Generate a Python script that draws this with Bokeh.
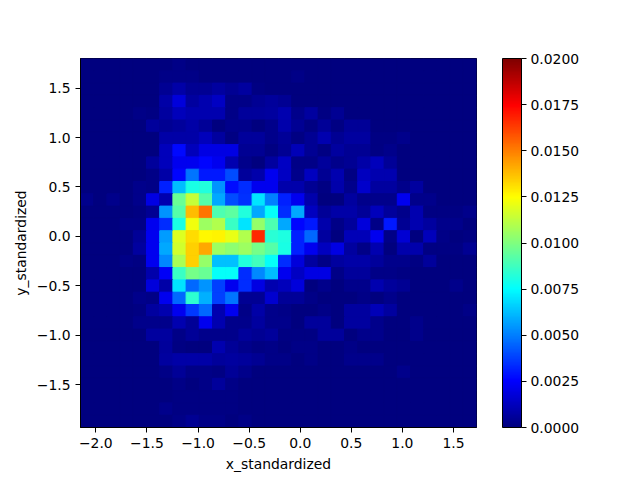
import numpy as np
from bokeh.plotting import figure
from bokeh.models import ColumnDataSource, LinearColorMapper, ColorBar, FixedTicker, Range1d
from bokeh.embed import file_html
from bokeh.resources import INLINE

# density values in units of 0.001, top row first
r00 = [0,0,0,0,0,0,0,.2,0,0,0,0,0,0,0,0,0,0,0,0,0,0,0,0,0,0,0,0,0,0]
r01 = [0,0,0,0,0,0,.2,.2,.2,0,0,0,0,0,0,0,.2,0,0,0,0,0,0,0,0,0,0,0,0,0]
r02 = [0,0,0,0,0,0,.4,.8,.4,.4,.7,.4,.7,.1,0,0,0,0,0,0,0,0,0,0,0,0,0,0,0,0]
r03 = [0,0,0,0,0,0,.8,1.8,.7,1.0,1.4,.2,.2,.4,.6,.4,0,0,0,0,0,0,0,0,0,0,0,0,0,0]
r04 = [0,0,0,0,.2,.1,.7,1.2,1.0,1.0,1.0,.2,.6,.6,.7,1.0,.3,.7,.1,.4,0,0,0,0,0,0,0,0,0,0]
r05 = [0,0,0,0,0,.6,.4,.6,.8,.5,.05,.3,.3,.05,.3,.9,.4,.1,.5,.1,.5,.5,0,0,0,0,0,0,0,0]
r06 = [0,0,0,0,0,0,.8,.8,.8,1.2,.7,.1,.6,.6,.3,.5,.1,.4,1.0,.4,.7,.7,.1,.1,.3,0,0,0,0,0]
r07 = [0,0,0,0,0,0,1.2,2.7,1.2,2.0,2.0,2.0,.4,.4,.1,.4,1.1,.4,.1,.7,.4,.4,.1,.3,0,0,0,0,0,0]
r08 = [0,0,0,0,0,.6,1.2,2.2,2.2,2.6,2.2,1.0,.3,.05,.7,1.4,.2,.2,.6,.3,.4,.8,1.2,.5,0,0,0,0,0,0]
r09 = [0,0,0,0,0,.2,.8,2.6,4.8,3.0,3.0,4.0,.6,.9,2.2,1.4,.3,1.3,.4,1.0,.1,1.3,1.0,1.0,0,0,0,0,0,0]
r10 = [0,0,0,0,.3,.2,3.2,6.2,8.0,8.2,5.4,2.8,3.4,2.2,2.2,.9,.9,.4,.1,.9,.3,1.5,.7,.7,.3,.7,0,0,0,0]
r11 = [.3,0,.3,0,.3,2.0,1.0,9.6,11.4,9.2,5.8,4.0,3.5,7.0,5.0,3.2,2.2,.9,.05,.05,.7,.3,.3,.3,2.2,.3,.3,0,0,0]
r12 = [0,0,0,0,.1,.4,5.4,9.2,13.8,15.2,9.0,9.3,8.2,5.8,7.6,3.4,5.8,1.3,.5,.8,.8,.5,1.2,.6,.3,1.0,.1,.1,.1,.3]
r13 = [0,0,0,.2,.2,2.2,3.4,8.0,12.2,10.6,11.0,8.6,7.0,10.4,9.0,5.8,2.6,3.0,.9,.2,.6,1.8,.2,3.0,.4,1.0,.7,.3,.3,.05]
r14 = [0,0,0,0,.5,2.2,5.6,11.8,13.2,12.6,12.7,12.1,11.0,16.7,8.3,8.1,3.2,4.6,.7,.05,1.1,1.1,2.2,.2,1.7,.05,1.2,.2,.05,.1]
r15 = [0,0,0,0,.7,2.2,5.8,11.6,13.4,14.2,10.6,10.3,10.6,9.8,9.2,8.0,3.2,2.2,1.3,2.0,.7,.2,1.0,.05,.9,.9,.1,.1,.1,.4]
r16 = [0,0,0,.2,.1,2.2,5.2,10.8,13.4,10.4,6.3,6.3,8.2,8.8,7.6,3.4,1.8,.7,.2,.7,.8,.8,.6,.3,.3,.1,.6,0,0,0]
r17 = [0,0,0,0,0,.9,2.4,8.6,9.8,9.6,7.6,7.6,3.4,5.2,6.2,2.2,1.4,2.0,2.0,.2,.6,.6,.2,.2,.1,.05,0,0,0,0]
r18 = [0,0,0,0,0,1.8,.8,7.0,4.6,5.4,3.8,2.2,3.4,2.0,1.0,1.2,1.8,.05,.3,.05,.3,.3,1.0,.6,.4,0,0,0,.3,0]
r19 = [0,0,0,0,.3,.2,2.2,4.6,8.4,6.0,3.8,4.8,.4,.4,1.6,.5,.5,.2,.05,.05,.05,.2,.05,.3,0,0,0,0,0,0]
r20 = [0,0,0,0,.1,.7,1.0,2.2,3.6,4.6,1.0,2.2,.2,.8,.3,.2,.05,.05,.2,.05,.7,.7,1.1,.7,0,0,0,0,0,.2]
r21 = [0,0,0,0,.3,.3,.3,1.0,.5,2.2,1.0,.3,.3,.7,.3,.3,.05,.6,.6,.05,.7,.7,.3,0,0,.3,0,0,0,0]
r22 = [0,0,0,0,0,.7,.7,.2,.5,.3,.3,.3,.6,.4,.6,.1,.1,.1,.6,.6,.05,.3,.3,.05,0,.3,0,0,0,0]
r23 = [0,0,0,0,0,0,.6,.1,.02,.02,1.0,.5,.3,.1,.2,.05,.2,.2,0,0,.2,0,0,0,0,0,0,0,0,0]
r24 = [0,0,0,0,0,0,.7,.8,.8,.8,.6,.7,.6,.4,.2,.2,0,.2,0,0,.3,.3,.3,0,0,0,0,0,0,0]
r25 = [0,0,0,0,0,0,.2,.5,.2,.2,.1,.5,.3,0,0,0,0,0,0,0,0,0,0,0,.3,0,0,0,0,0]
r26 = [0,0,0,0,0,0,0,.2,.05,.2,.6,.2,0,0,0,0,0,0,0,0,0,0,0,0,0,0,0,0,0,0]
r27 = [0,0,0,0,0,0,0,.1,.1,.1,.1,.1,0,0,0,0,0,0,0,0,0,0,0,0,0,0,0,0,0,0]
r28 = [0,0,0,0,0,0,.3,.1,.1,.1,.1,.1,0,0,0,0,0,0,0,0,0,0,0,0,0,0,0,0,0,0]
r29 = [0,0,0,0,0,0,0,.2,.4,.2,.2,0,.2,0,0,0,0,0,0,0,0,0,0,0,0,0,0,0,0,0]
rows = [r00,r01,r02,r03,r04,r05,r06,r07,r08,r09,r10,r11,r12,r13,r14,r15,r16,r17,r18,r19,r20,r21,r22,r23,r24,r25,r26,r27,r28,r29]

x_ticks = [-2.0,-1.5,-1.0,-0.5,0.0,0.5,1.0,1.5]
x_labels = ["\u22122.0","\u22121.5","\u22121.0","\u22120.5","0.0","0.5","1.0","1.5"]
y_ticks = [-1.5,-1.0,-0.5,0.0,0.5,1.0,1.5]
y_labels = ["\u22121.5","\u22121.0","\u22120.5","0.0","0.5","1.0","1.5"]
cb_ticks = [0.0,0.0025,0.005,0.0075,0.01,0.0125,0.015,0.0175,0.02]

X0, X1, Y0, Y1 = -2.15, 1.725, -1.935, 1.80
xe = np.linspace(X0, X1, 31)
ye = np.linspace(Y1, Y0, 31)

def jet(v):
    r = np.clip(np.minimum(4*v-1.5, -4*v+4.5), 0, 1)
    g = np.clip(np.minimum(4*v-0.5, -4*v+3.5), 0, 1)
    b = np.clip(np.minimum(4*v+0.5, -4*v+2.5), 0, 1)
    return "#%02x%02x%02x" % (int(r*255), int(g*255), int(b*255))
palette = [jet(i/255) for i in range(256)]
mapper = LinearColorMapper(palette=palette, low=0, high=0.02)

L, R, B, T, C = [], [], [], [], []
for i, row in enumerate(rows):
    for j, val in enumerate(row):
        L.append(xe[j]); R.append(xe[j+1]); T.append(ye[i]); B.append(ye[i+1]); C.append(val/1000)
src = ColumnDataSource(dict(left=L, right=R, top=T, bottom=B, v=C))

p = figure(frame_width=396, frame_height=369, output_backend="svg", toolbar_location=None,
           x_range=Range1d(X0, X1), y_range=Range1d(Y0, Y1),
           min_border_left=80, min_border_top=58, min_border_bottom=45, min_border_right=10,
           background_fill_color="#00007f",
           x_axis_label="x_standardized", y_axis_label="y_standardized")
cmap = {"field": "v", "transform": mapper}
p.quad(left="left", right="right", top="top", bottom="bottom", source=src,
       fill_color=cmap, line_color=cmap, line_width=1)
p.grid.visible = False
p.outline_line_color = "black"
p.outline_line_width = 1

for ax, ticks, labels in ((p.xaxis[0], x_ticks, x_labels), (p.yaxis[0], y_ticks, y_labels)):
    ax.ticker = FixedTicker(ticks=ticks)
    ax.major_label_overrides = dict(zip(ticks, labels))
    ax.major_tick_out = 5
    ax.major_tick_in = 0
    ax.minor_tick_out = 0
    ax.minor_tick_in = 0
    ax.major_label_text_font = "DejaVu Sans"
    ax.major_label_text_font_size = "13.9px"
    ax.major_label_text_color = "black"
    ax.axis_label_text_font = "DejaVu Sans"
    ax.axis_label_text_font_size = "13.9px"
    ax.axis_label_text_font_style = "normal"
    ax.axis_label_text_color = "black"
    ax.axis_line_color = "black"
    ax.major_tick_line_color = "black"
p.yaxis[0].major_label_orientation = "horizontal"

cb = ColorBar(color_mapper=mapper, width=19, height=369, padding=0, margin=0, location=(26, 0),
              ticker=FixedTicker(ticks=cb_ticks),
              major_label_overrides={t: "%.4f" % t for t in cb_ticks},
              major_tick_in=0, major_tick_out=5, major_tick_line_color="black",
              bar_line_color="black", bar_line_width=1, border_line_color=None,
              background_fill_color=None, label_standoff=4,
              major_label_text_font="DejaVu Sans", major_label_text_font_size="13.9px",
              major_label_text_color="black")
p.add_layout(cb, "right")

open("out.html", "w").write(file_html(p, INLINE))
